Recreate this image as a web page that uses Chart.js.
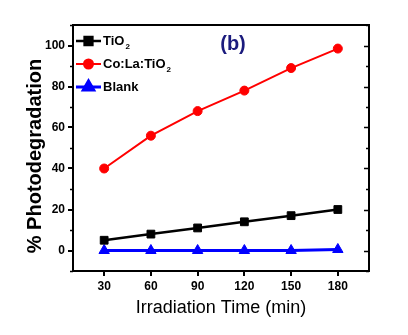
<!DOCTYPE html>
<html>
<head>
<meta charset="utf-8">
<script src="https://cdn.jsdelivr.net/npm/chart.js@4/dist/chart.umd.min.js"></script>
<style>
  html, body { margin: 0; padding: 0; background: #fff; }
  #c { display: block; }
</style>
</head>
<body>
<canvas id="c" width="408" height="335"></canvas>
<script>
// ---- data ----
const categories = [30, 60, 90, 120, 150, 180];          // Irradiation time (min)
const tio2Values = [5, 8, 11, 14, 17, 20];
const colaTio2Values = [40, 56, 68, 78, 89, 98.5];
const blankValues = [0, 0, 0, 0, 0, 0.5];
const seriesLabels = ['TiO₂', 'Co:La:TiO₂', 'Blank'];
const xTickValues = [30, 60, 90, 120, 150, 180];
const yTickValues = [0, 20, 40, 60, 80, 100];
const yMinorTickValues = [-10, 10, 30, 50, 70, 90, 110];
const panelLabel = '(b)';
const xTitle = 'Irradiation Time (min)';
const yTitle = '% Photodegradation';

const FONT = '"Liberation Sans", Arial, sans-serif';
Chart.defaults.font.family = FONT;

const toPoints = vals => categories.map((c, i) => ({ x: c, y: vals[i] }));

const framePlugin = {
  id: 'frameAndLegend',
  afterDraw(chart) {
    const { ctx, chartArea: { left, top, right, bottom }, scales: { x, y } } = chart;
    ctx.save();
    // frame
    ctx.strokeStyle = '#000';
    ctx.lineWidth = 2;
    ctx.strokeRect(left, top, right - left, bottom - top);
    // minor outward ticks on the left
    ctx.lineWidth = 1.5;
    ctx.beginPath();
    yMinorTickValues.forEach(v => {
      const py = Math.round(y.getPixelForValue(v)) + 0.5;
      ctx.moveTo(left - 3, py); ctx.lineTo(left, py);
    });
    // inward ticks on the right (major + minor)
    yTickValues.concat(yMinorTickValues).forEach(v => {
      const py = Math.round(y.getPixelForValue(v)) + 0.5;
      const len = yTickValues.includes(v) ? 5 : 3;
      ctx.moveTo(right, py); ctx.lineTo(right - len, py);
    });
    ctx.stroke();

    // y-axis title
    ctx.save();
    ctx.translate(35, (top + bottom) / 2 + 8);
    ctx.rotate(-Math.PI / 2);
    ctx.fillStyle = '#000';
    ctx.font = 'bold 20px ' + FONT;
    ctx.textAlign = 'center';
    ctx.textBaseline = 'middle';
    ctx.fillText(yTitle, 0, 0);
    ctx.restore();

    // panel label
    ctx.fillStyle = '#1b1b7d';
    ctx.font = 'bold 20px ' + FONT;
    ctx.textAlign = 'center';
    ctx.textBaseline = 'middle';
    ctx.fillText(panelLabel, 233, 44);

    // legend inside plot
    chart.data.datasets.forEach((ds, i) => {
      const ly = top + 16 + i * 23;
      const x0 = left + 3, x1 = left + 28;
      ctx.strokeStyle = ds.borderColor;
      ctx.lineWidth = ds.borderWidth;
      ctx.beginPath(); ctx.moveTo(x0, ly); ctx.lineTo(x1, ly); ctx.stroke();
      ctx.fillStyle = ds.pointBackgroundColor;
      ctx.strokeStyle = ds.pointBorderColor;
      Chart.helpers.drawPoint(ctx, {
        pointStyle: ds.pointStyle, radius: ds.pointRadius, borderWidth: 1, rotation: 0
      }, (x0 + x1) / 2, ly);
      // text with subscript 2
      ctx.fillStyle = '#000';
      ctx.textAlign = 'left';
      ctx.textBaseline = 'middle';
      let tx = x1 + 2;
      const parts = ds.label.split('₂');
      parts.forEach((p, k) => {
        ctx.font = 'bold 13px ' + FONT;
        ctx.fillText(p, tx, ly);
        tx += ctx.measureText(p).width;
        if (k < parts.length - 1) {
          ctx.font = 'bold 8px ' + FONT;
          ctx.fillText('2', tx + 1, ly + 6);
          tx += ctx.measureText('2').width + 1;
        }
      });
    });
    ctx.restore();
  }
};

const tickFont = { family: FONT, size: 12, weight: 'bold' };

new Chart(document.getElementById('c'), {
  type: 'line',
  data: {
    datasets: [
      {
        label: seriesLabels[0], data: toPoints(tio2Values),
        borderColor: '#000', backgroundColor: '#000', borderWidth: 2.5,
        pointStyle: 'rect', pointRadius: 5.5, pointBackgroundColor: '#000', pointBorderColor: '#000', pointBorderWidth: 1
      },
      {
        label: seriesLabels[1], data: toPoints(colaTio2Values),
        borderColor: '#ff0000', backgroundColor: '#ff0000', borderWidth: 2,
        pointStyle: 'circle', pointRadius: 4.5, pointBackgroundColor: '#ff0000', pointBorderColor: '#ff0000', pointBorderWidth: 1
      },
      {
        label: seriesLabels[2], data: toPoints(blankValues),
        borderColor: '#0000ff', backgroundColor: '#0000ff', borderWidth: 3,
        pointStyle: 'triangle', pointRadius: 6, pointBackgroundColor: '#0000ff', pointBorderColor: '#0000ff', pointBorderWidth: 1
      }
    ]
  },
  options: {
    responsive: false,
    animation: false,
    devicePixelRatio: 1,
    layout: { padding: { top: 25, right: 39, left: 0, bottom: 0 } },
    plugins: { legend: { display: false }, title: { display: false }, tooltip: { enabled: false } },
    elements: { line: { tension: 0 } },
    scales: {
      x: {
        type: 'linear', min: 10, max: 200,
        afterBuildTicks: s => { s.ticks = xTickValues.map(v => ({ value: v })); },
        afterFit: s => { s.height = 64; },
        border: { display: false },
        grid: { drawOnChartArea: false, drawTicks: true, tickLength: 5, color: '#000', lineWidth: 2 },
        ticks: { color: '#000', font: tickFont, padding: 3, maxRotation: 0, autoSkip: false },
        title: { display: true, text: xTitle, color: '#000', font: { family: FONT, size: 18 }, padding: { top: 0, bottom: 16 } }
      },
      y: {
        type: 'linear', min: -10, max: 110,
        afterBuildTicks: s => { s.ticks = yTickValues.map(v => ({ value: v })); },
        afterFit: s => { s.width = 73; },
        border: { display: false },
        grid: { drawOnChartArea: false, drawTicks: true, tickLength: 5, color: '#000', lineWidth: 2 },
        ticks: { color: '#000', font: tickFont, padding: 3, autoSkip: false },
        title: { display: false }
      }
    }
  },
  plugins: [framePlugin]
});
</script>
</body>
</html>
